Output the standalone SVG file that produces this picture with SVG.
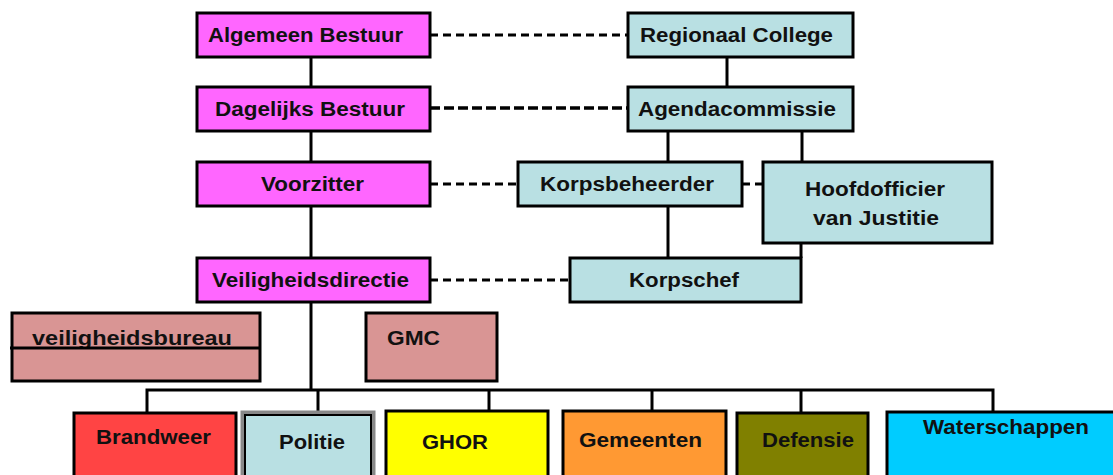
<svg xmlns="http://www.w3.org/2000/svg" width="1113" height="475" viewBox="0 0 1113 475">
<style>
.b{stroke:#000;stroke-width:3}
.m{fill:#FF66FF}
.c{fill:#B9E0E3}
.r{fill:#D99594}
text{font-family:"Liberation Sans",Arial,sans-serif;font-weight:bold;font-size:20px;fill:#111}
.t{text-anchor:start}
.ln{stroke:#000;stroke-width:3;fill:none}
.d{stroke:#000;stroke-width:3;stroke-dasharray:8 5;fill:none}
.d2{stroke:#000;stroke-width:3.5;stroke-dasharray:10 4;fill:none}
</style>
<rect width="1113" height="475" fill="#fff"/>
<g id="connectors">
<line class="ln" x1="311" y1="57" x2="311" y2="87"/>
<line class="ln" x1="311" y1="131" x2="311" y2="162"/>
<line class="ln" x1="311" y1="206" x2="311" y2="258"/>
<line class="ln" x1="311" y1="302" x2="311" y2="390"/>
<line class="ln" x1="727" y1="57" x2="727" y2="87"/>
<line class="ln" x1="668" y1="131" x2="668" y2="162"/>
<line class="ln" x1="802" y1="131" x2="802" y2="162"/>
<line class="ln" x1="668" y1="206" x2="668" y2="258"/>
<line class="ln" x1="801" y1="243" x2="801" y2="258"/>
<line class="d" x1="430" y1="35" x2="628" y2="35"/>
<line class="d2" x1="430" y1="108" x2="628" y2="108"/>
<line class="d" x1="430" y1="184" x2="518" y2="184"/>
<line class="d" x1="742" y1="184" x2="763" y2="184"/>
<line class="d" x1="430" y1="280" x2="570" y2="280"/>
<polyline class="ln" points="147,413 147,390 993,390 993,411"/>
<line class="ln" x1="318" y1="390" x2="318" y2="413"/>
<line class="ln" x1="489" y1="390" x2="489" y2="412"/>
<line class="ln" x1="652" y1="390" x2="652" y2="411"/>
<line class="ln" x1="801" y1="390" x2="801" y2="412"/>
</g>
<g id="algemeen-bestuur"><rect class="b m" x="197" y="13" width="233" height="44"/><text x="208" y="42" textLength="195" lengthAdjust="spacingAndGlyphs">Algemeen Bestuur</text></g>
<g id="dagelijks-bestuur"><rect class="b m" x="197" y="87" width="233" height="44"/><text x="215" y="116" textLength="190" lengthAdjust="spacingAndGlyphs">Dagelijks Bestuur</text></g>
<g id="voorzitter"><rect class="b m" x="197" y="162" width="233" height="44"/><text x="261" y="191" textLength="103" lengthAdjust="spacingAndGlyphs">Voorzitter</text></g>
<g id="veiligheidsdirectie"><rect class="b m" x="197" y="258" width="233" height="44"/><text x="212" y="287" textLength="197" lengthAdjust="spacingAndGlyphs">Veiligheidsdirectie</text></g>
<g id="regionaal-college"><rect class="b c" x="628" y="13" width="225" height="44"/><text x="640" y="42" textLength="193" lengthAdjust="spacingAndGlyphs">Regionaal College</text></g>
<g id="agendacommissie"><rect class="b c" x="628" y="87" width="225" height="44"/><text x="638" y="116" textLength="198" lengthAdjust="spacingAndGlyphs">Agendacommissie</text></g>
<g id="korpsbeheerder"><rect class="b c" x="518" y="162" width="224" height="44"/><text x="540" y="191" textLength="174" lengthAdjust="spacingAndGlyphs">Korpsbeheerder</text></g>
<g id="hoofdofficier"><rect class="b c" x="763" y="162" width="229" height="81"/><text x="805" y="196" textLength="140" lengthAdjust="spacingAndGlyphs">Hoofdofficier</text><text x="813" y="225" textLength="126" lengthAdjust="spacingAndGlyphs">van Justitie</text></g>
<g id="korpschef"><rect class="b c" x="570" y="258" width="231" height="44"/><text x="629" y="287" textLength="110" lengthAdjust="spacingAndGlyphs">Korpschef</text></g>
<g id="veiligheidsbureau"><rect class="b r" x="12" y="313" width="248" height="68"/><text x="32" y="345" textLength="200" lengthAdjust="spacingAndGlyphs">veiligheidsbureau</text><line class="ln" x1="10" y1="348" x2="260" y2="348"/></g>
<g id="gmc"><rect class="b r" x="366" y="313" width="131" height="68"/><text x="387" y="345" textLength="53" lengthAdjust="spacingAndGlyphs">GMC</text></g>
<g id="brandweer"><rect class="b" fill="#FF4444" x="74" y="413" width="162" height="70"/><text x="96" y="444" textLength="115" lengthAdjust="spacingAndGlyphs">Brandweer</text></g>
<g id="politie"><rect fill="#B9E0E3" stroke="#888" stroke-width="5" x="243" y="413" width="130" height="70"/><rect fill="none" stroke="#000" stroke-width="2" x="245" y="415" width="126" height="70"/><text x="279" y="449" textLength="66" lengthAdjust="spacingAndGlyphs">Politie</text></g>
<g id="ghor"><rect class="b" fill="#FFFF00" x="386" y="411" width="162" height="70"/><text x="422" y="449" textLength="66" lengthAdjust="spacingAndGlyphs">GHOR</text></g>
<g id="gemeenten"><rect class="b" fill="#FF9933" x="563" y="411" width="163" height="70"/><text x="579" y="447" textLength="123" lengthAdjust="spacingAndGlyphs">Gemeenten</text></g>
<g id="defensie"><rect class="b" fill="#808000" x="737" y="413" width="131" height="70"/><text x="762" y="447" textLength="92" lengthAdjust="spacingAndGlyphs">Defensie</text></g>
<g id="waterschappen"><rect class="b" fill="#00CCFF" x="887" y="412" width="230" height="70"/><text x="923" y="434" textLength="166" lengthAdjust="spacingAndGlyphs">Waterschappen</text></g>
</svg>
